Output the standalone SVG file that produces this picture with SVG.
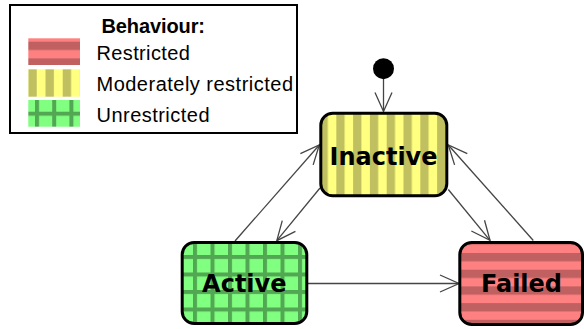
<svg xmlns="http://www.w3.org/2000/svg" width="584" height="329" viewBox="0 0 584 329">
<style>
.node{stroke:#000;stroke-width:3}
.lbl{font-family:"DejaVu Sans",sans-serif;font-weight:bold;font-size:24px;text-anchor:middle;fill:#000}
.leg{font-family:"Liberation Sans",Arial,sans-serif;font-size:20px;fill:#000}
.edge{fill:none;stroke:#444;stroke-width:1.3}
</style>
<defs>
<marker id="arr" markerUnits="userSpaceOnUse" markerWidth="24" markerHeight="22" viewBox="-21 -11 24 22" refX="0" refY="0" orient="auto">
<path d="M-19,-8.5 L0,0 L-19,8.5" fill="none" stroke="#444" stroke-width="1.3"/>
</marker>
<pattern id="redL" patternUnits="userSpaceOnUse" x="0" y="41.7" width="10" height="16.7"><rect width="10" height="16.7" fill="#FF8080"/><rect width="10" height="8.3" fill="#C06060"/></pattern>
<pattern id="redN" patternUnits="userSpaceOnUse" x="0" y="253" width="10" height="16.7"><rect width="10" height="16.7" fill="#FF8080"/><rect width="10" height="8.3" fill="#C06060"/></pattern>
<pattern id="yelL" patternUnits="userSpaceOnUse" x="28.3" y="0" width="17.2" height="10"><rect width="17.2" height="10" fill="#FFFF80"/><rect width="8.4" height="10" fill="#C0C060"/></pattern>
<pattern id="yelN" patternUnits="userSpaceOnUse" x="336.3" y="0" width="16.8" height="10"><rect width="16.8" height="10" fill="#FFFF80"/><rect width="8.3" height="10" fill="#C0C060"/></pattern>
<pattern id="grnL" patternUnits="userSpaceOnUse" x="35" y="111.7" width="17.2" height="17.2"><rect width="17.2" height="17.2" fill="#80FF80"/><rect width="4" height="17.2" fill="#52A852"/><rect width="17.2" height="4" fill="#52A852"/></pattern>
<pattern id="grnN" patternUnits="userSpaceOnUse" x="193" y="255" width="17.5" height="17.5"><rect width="17.5" height="17.5" fill="#80FF80"/><rect width="4" height="17.5" fill="#52A852"/><rect width="17.5" height="4" fill="#52A852"/></pattern>
</defs>
<rect width="584" height="329" fill="#fff"/>
<g id="legend">
<rect x="10" y="5" width="287" height="128" fill="#fff" stroke="#000" stroke-width="2"/>
<text x="101.5" y="32.5" class="leg" font-weight="bold" textLength="103.5" lengthAdjust="spacing">Behaviour:</text>
<rect x="28.3" y="38.3" width="51.7" height="26.7" fill="url(#redL)"/>
<text x="96.5" y="60" class="leg" textLength="93.3" lengthAdjust="spacing">Restricted</text>
<rect x="28.3" y="69.3" width="51.7" height="27.4" fill="url(#yelL)"/>
<text x="96.5" y="91" class="leg" textLength="196.5" lengthAdjust="spacing">Moderately restricted</text>
<rect x="28.3" y="100" width="51.7" height="26.7" fill="url(#grnL)"/>
<text x="96.5" y="121.6" class="leg" textLength="113" lengthAdjust="spacing">Unrestricted</text>
</g>
<g id="edges">
<line class="edge" x1="383.5" y1="79" x2="383.5" y2="111.5" marker-end="url(#arr)"/>
<line class="edge" x1="235" y1="241" x2="319.3" y2="145" marker-end="url(#arr)"/>
<line class="edge" x1="320" y1="188" x2="276.8" y2="240.7" marker-end="url(#arr)"/>
<line class="edge" x1="448.3" y1="189.5" x2="490" y2="240.3" marker-end="url(#arr)"/>
<line class="edge" x1="533.3" y1="240.5" x2="448.3" y2="145" marker-end="url(#arr)"/>
<line class="edge" x1="308" y1="283.5" x2="459" y2="283.5" marker-end="url(#arr)"/>
</g>
<g id="start">
<circle cx="383.5" cy="68.7" r="10.5" fill="#000"/>
</g>
<g id="inactive">
<rect class="node" x="320.8" y="113.2" width="126" height="82.6" rx="12" fill="url(#yelN)"/>
<text class="lbl" x="383.5" y="164.7">Inactive</text>
</g>
<g id="active">
<rect class="node" x="182.2" y="242.5" width="124.6" height="81" rx="12" fill="url(#grnN)"/>
<text class="lbl" x="244.3" y="292.3">Active</text>
</g>
<g id="failed">
<rect class="node" x="459.8" y="242.5" width="122.7" height="82" rx="12" fill="url(#redN)"/>
<text class="lbl" x="521.5" y="292">Failed</text>
</g>
</svg>
